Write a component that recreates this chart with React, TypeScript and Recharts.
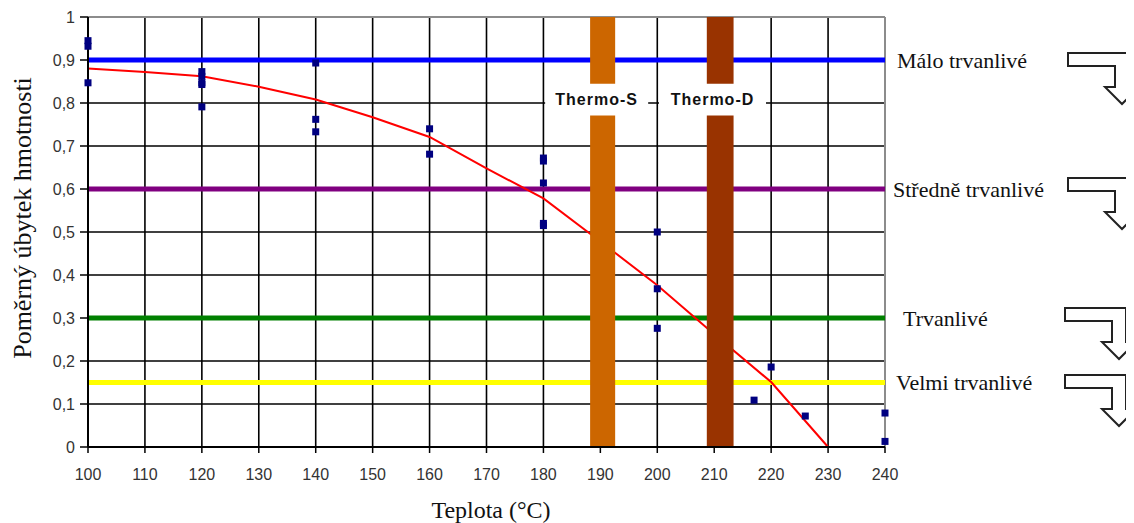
import React from 'react';
import {
    ComposedChart,
    Line,
    Scatter,
    XAxis,
    YAxis,
    CartesianGrid,
    ReferenceLine,
    ReferenceArea,
    Customized,
    Label,
} from 'recharts';

// axis ticks
const xTicks = [100, 110, 120, 130, 140, 150, 160, 170, 180, 190, 200, 210, 220, 230, 240];
const yTicks = [0, 0.1, 0.2, 0.3, 0.4, 0.5, 0.6, 0.7, 0.8, 0.9, 1];

// measured samples
const sampleTemp = [100, 100, 100, 120, 120, 120, 120, 120, 140, 140, 140, 160, 160, 180, 180, 180, 180, 180, 200, 200, 200, 217, 220, 226, 240, 240];
const sampleLoss = [0.945, 0.932, 0.847, 0.873, 0.862, 0.847, 0.843, 0.791, 0.893, 0.762, 0.733, 0.74, 0.681, 0.672, 0.665, 0.614, 0.52, 0.515, 0.5, 0.368, 0.276, 0.109, 0.186, 0.072, 0.079, 0.013];

// fitted curve
const fitTemp = [100, 110, 120, 130, 140, 150, 160, 170, 180, 190, 200, 210, 220, 230];
const fitLoss = [0.88, 0.872, 0.862, 0.838, 0.808, 0.767, 0.721, 0.648, 0.578, 0.478, 0.376, 0.262, 0.151, 0];

// durability classes
const classLimits = [0.9, 0.6, 0.3, 0.15];
const classNames = ['Málo trvanlivé', 'Středně trvanlivé', 'Trvanlivé', 'Velmi trvanlivé'];

// heat treatments (temperature bands)
const treatmentNames = ['Thermo-S', 'Thermo-D'];
const treatmentFrom = [188.2, 208.7];
const treatmentTo = [192.6, 213.4];

const classColors = ['#0000ff', '#800080', '#008000', '#ffff00'];
const classLabelOffsets = [12, 8, 18, 11];
const treatmentColors = ['#cc6600', '#993300'];
const labelBoxes = [[180.3, 198.4], [200.3, 219.1]];

const samples = sampleTemp.map((x, i) => ({ x, y: sampleLoss[i] }));
const fit = fitTemp.map((x, i) => ({ x, y: fitLoss[i] }));

const serif = 'Liberation Serif, Times New Roman, serif';
const sans = 'Liberation Sans, Arial, sans-serif';

const Square = (p: any) => (
    <rect x={p.cx - 3.5} y={p.cy - 3.5} width={7} height={7} fill="#000080" />
);

// outlined bent arrows on the right
const arrowTops = [[1060, 45], [1060, 170], [1057, 300], [1057, 367]];
const Arrows = () => (
    <g>
        {arrowTops.map(([x, y], i) => (
            <path
                key={i}
                transform={`translate(${x},${y})`}
                d="M0,0 H61 V34 H71 L54,51 L37,34 H47 V13 H0 Z"
                fill="#fff"
                stroke="#222"
                strokeWidth={2}
            />
        ))}
    </g>
);

const fmt = (v: number) => (v === 0 || v === 1 ? String(v) : v.toFixed(1).replace('.', ','));

const App: React.FC = () => {
    return (
        <div style={{ width: 1126, height: 515 }}>
            <ComposedChart
                width={1126}
                height={515}
                margin={{ top: 9, right: 249, left: 20, bottom: 36 }}
            >
                <CartesianGrid stroke="#000" strokeWidth={1.6} />
                <XAxis
                    dataKey="x"
                    type="number"
                    domain={[100, 240]}
                    ticks={xTicks}
                    interval={0}
                    height={40}
                    tickSize={6}
                    tickMargin={16}
                    axisLine={{ stroke: '#000', strokeWidth: 2 }}
                    tickLine={{ stroke: '#000', strokeWidth: 1.5 }}
                    tick={{ fill: '#333', fontSize: 16, fontFamily: sans }}
                >
                    <Label
                        content={() => (
                            <text x={483} y={502} textAnchor="middle" dominantBaseline="central" fontFamily={serif} fontSize={24} fill="#111">
                                Teplota (°C)
                            </text>
                        )}
                    />
                </XAxis>
                <YAxis
                    dataKey="y"
                    type="number"
                    domain={[0, 1]}
                    ticks={yTicks}
                    interval={0}
                    width={60}
                    tickSize={8}
                    tickMargin={5}
                    tickFormatter={fmt}
                    axisLine={{ stroke: '#000', strokeWidth: 2 }}
                    tickLine={{ stroke: '#000', strokeWidth: 1.5 }}
                    tick={{ fill: '#333', fontSize: 16, fontFamily: sans }}
                >
                    <Label
                        content={() => (
                            <text
                                x={14}
                                y={210}
                                transform="rotate(-90 14 210)"
                                textAnchor="middle"
                                dominantBaseline="central"
                                fontFamily={serif}
                                fontSize={26}
                                fill="#111"
                            >
                                Poměrný úbytek hmotnosti
                            </text>
                        )}
                    />
                </YAxis>

                <ReferenceLine y={1} stroke="#8c8c8c" strokeWidth={2} zIndex={50} />
                <ReferenceLine x={240} stroke="#8c8c8c" strokeWidth={2} zIndex={50} />

                {classLimits.map((v, i) => (
                    <ReferenceLine
                        key={classNames[i]}
                        y={v}
                        stroke={classColors[i]}
                        strokeWidth={5}
                        zIndex={100}
                        label={{
                            value: classNames[i],
                            position: 'right',
                            offset: classLabelOffsets[i],
                            fill: '#111',
                            fontSize: 22,
                            fontFamily: serif,
                        }}
                    />
                ))}

                <Line
                    data={fit}
                    dataKey="y"
                    type="linear"
                    stroke="#ff0000"
                    strokeWidth={2}
                    dot={false}
                    activeDot={false}
                    isAnimationActive={false}
                    zIndex={400}
                />

                {treatmentNames.map((n, i) => (
                    <ReferenceArea
                        key={n}
                        x1={treatmentFrom[i]}
                        x2={treatmentTo[i]}
                        y1={0}
                        y2={1}
                        fill={treatmentColors[i]}
                        fillOpacity={1}
                        stroke="none"
                        zIndex={450}
                    />
                ))}
                {treatmentNames.map((n, i) => (
                    <ReferenceArea
                        key={`${n}-box`}
                        x1={labelBoxes[i][0]}
                        x2={labelBoxes[i][1]}
                        y1={0.771}
                        y2={0.845}
                        fill="#fff"
                        fillOpacity={1}
                        stroke="none"
                        zIndex={460}
                        label={{
                            value: n,
                            position: 'center',
                            fill: '#111',
                            fontSize: 16,
                            fontWeight: 'bold',
                            fontFamily: sans,
                            letterSpacing: 1,
                        }}
                    />
                ))}

                <Scatter data={samples} shape={Square} isAnimationActive={false} zIndex={600} />
                <Customized component={Arrows} />
            </ComposedChart>
        </div>
    );
};

export default App;
